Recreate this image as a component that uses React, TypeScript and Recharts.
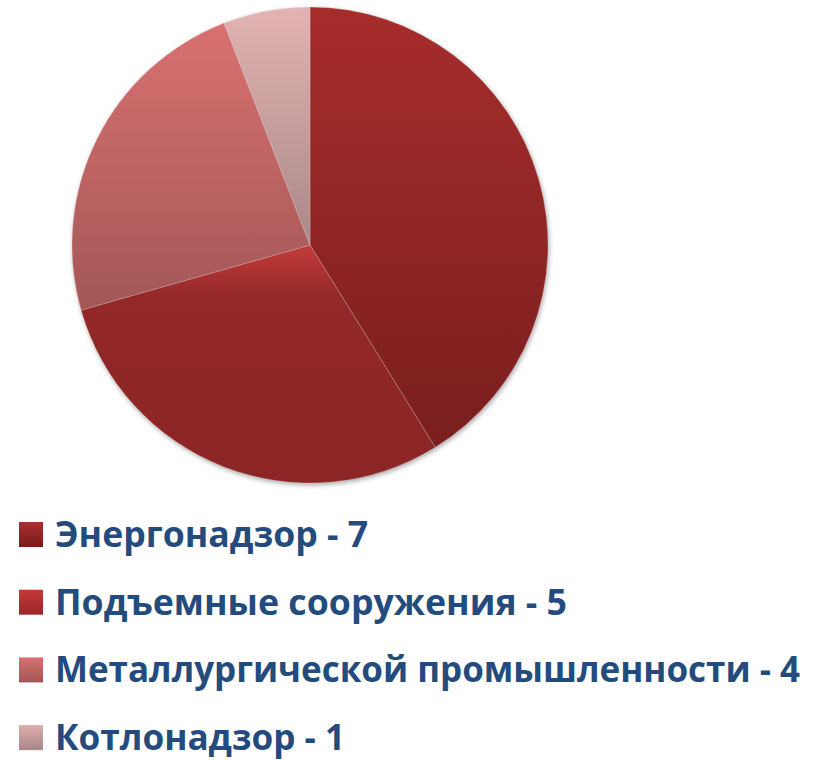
import { Cell, Legend, Pie, PieChart } from "recharts";

const names = ["Энергонадзор", "Подъемные сооружения", "Металлургической промышленности", "Котлонадзор"];
const values = [7, 5, 4, 1];
const legendWidths = [313, 512, 745, 290];

// gradient stops per slice: [offset, colour]
const sliceStops: [number, string][][] = [
  [[0, "#A62D2C"], [1, "#7A1E1E"]],
  [[0, "#C43C3A"], [0.22, "#922828"], [1, "#8C2525"]],
  [[0, "#D87170"], [1, "#A35757"]],
  [[0, "#E2B3B2"], [1, "#AA8888"]],
];
const legendStops: [string, string][] = [
  ["#A83030", "#781C1C"],
  ["#C43A38", "#982727"],
  ["#D87070", "#A05656"],
  ["#DEAEAE", "#A88686"],
];

const data = names.map((name, i) => ({ name, value: values[i] }));
const total = [{ name: "all", value: values.reduce((a, b) => a + b, 0) }];

function LegendBlock() {
  return (
    <svg width={821} height={260}>
      <defs>
        {legendStops.map(([a, b], i) => (
          <linearGradient key={i} id={`lg${i}`} x1="0" y1="0" x2="0" y2="1">
            <stop offset="0" stopColor={a} />
            <stop offset="1" stopColor={b} />
          </linearGradient>
        ))}
      </defs>
      {data.map((d, i) => (
        <g key={d.name} transform={`translate(0, ${i * 67.7})`}>
          <rect x={19} y={22} width={24} height={25} fill={`url(#lg${i})`} />
          <text
            x={55}
            y={47}
            fontFamily="'Open Sans', sans-serif"
            fontWeight={700}
            fontSize={36}
            fill="#244B7E"
            textLength={legendWidths[i]}
            lengthAdjust="spacingAndGlyphs"
          >
            {`${d.name} - ${d.value}`}
          </text>
        </g>
      ))}
    </svg>
  );
}

export default function App() {
  return (
    <div style={{ position: "absolute", left: 0, top: 0, background: "#fff" }}>
      <PieChart width={821} height={760} margin={{ top: 0, right: 0, bottom: 0, left: 0 }}>
        <defs>
          {sliceStops.map((stops, i) => (
            <linearGradient key={i} id={`sg${i}`} x1="0" y1="0" x2="0" y2="1">
              {stops.map(([o, c]) => (
                <stop key={o} offset={o} stopColor={c} />
              ))}
            </linearGradient>
          ))}
          <filter id="shadow" x="-10%" y="-10%" width="120%" height="120%">
            <feGaussianBlur in="SourceAlpha" stdDeviation="2.5" />
            <feOffset dx="1" dy="2" result="b" />
            <feComponentTransfer>
              <feFuncA type="linear" slope="0.35" />
            </feComponentTransfer>
          </filter>
        </defs>
        <Pie
          data={total}
          dataKey="value"
          cx={310}
          cy={245}
          outerRadius={238}
          startAngle={90}
          endAngle={-270}
          stroke="none"
          fill="#000"
          filter="url(#shadow)"
          isAnimationActive={false}
          legendType="none"
        />
        <Pie
          data={data}
          dataKey="value"
          nameKey="name"
          cx={310}
          cy={245}
          outerRadius={238}
          startAngle={90}
          endAngle={-270}
          stroke="rgba(255,255,255,0.35)"
          strokeWidth={0.6}
          isAnimationActive={false}
        >
          {data.map((d, i) => (
            <Cell key={d.name} fill={`url(#sg${i})`} />
          ))}
        </Pie>
        <Legend
          content={() => <LegendBlock />}
          wrapperStyle={{ position: "absolute", left: 0, top: 500, width: 821 }}
        />
      </PieChart>
    </div>
  );
}
